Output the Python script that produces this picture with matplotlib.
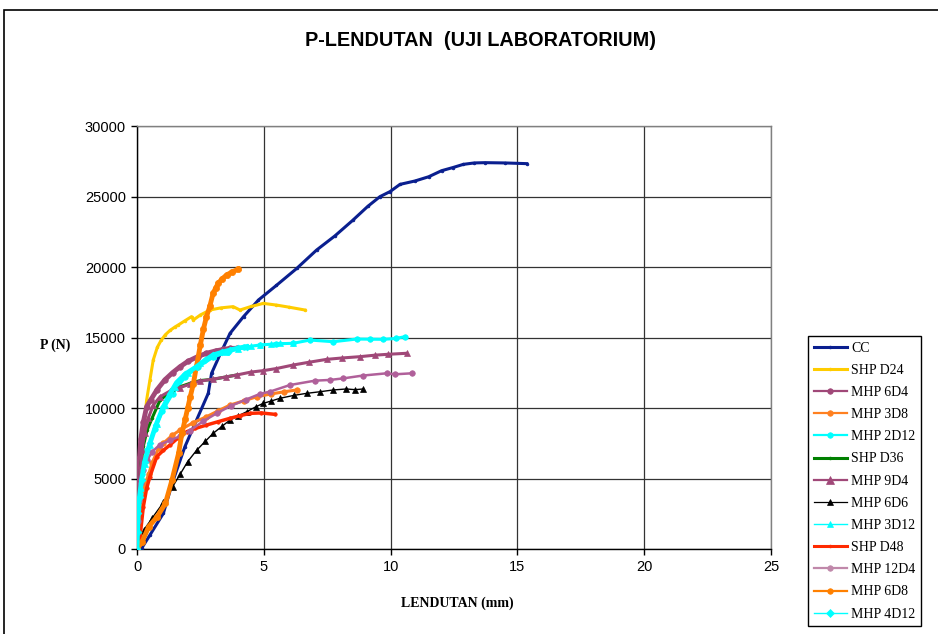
import matplotlib
matplotlib.use("Agg")
import matplotlib.pyplot as plt
from matplotlib.patches import Rectangle
from matplotlib.lines import Line2D

# ---------------- data ----------------
cc_x = [0, 0.2, 0.51, 1.04, 1.43, 1.89, 2.35, 2.81, 2.94, 3.3, 3.67, 4.2, 4.79, 5.5, 6.3, 7.08, 7.8, 8.5, 9.1,
        9.58, 9.98, 10.37, 10.96, 11.5, 12.01, 12.45, 12.87, 13.3, 13.72, 14.5, 15.37]
cc_p = [0, 100, 990, 2530, 4890, 7260, 9150, 11040, 12460, 13900, 15300, 16480, 17660, 18700, 19900, 21200,
        22200, 23300, 24300, 24990, 25350, 25860, 26100, 26400, 26830, 27050, 27280, 27380, 27400, 27380, 27330]

shp24_x = [0, 0.05, 0.1, 0.17, 0.25, 0.38, 0.51, 0.64, 0.8, 0.95, 1.12, 1.3, 1.5, 1.63, 1.9, 2.15, 2.22, 2.5,
           2.88, 3.3, 3.79, 4.06, 4.5, 4.98, 5.5, 6.0, 6.62]
shp24_p = [0, 1500, 3500, 6000, 8200, 10570, 11990, 13400, 14300, 14800, 15200, 15500, 15750, 15890, 16200,
           16480, 16240, 16600, 16950, 17100, 17190, 16950, 17200, 17420, 17300, 17150, 16950]

mhp6d4_x = [0, 0.02, 0.05, 0.1, 0.15, 0.25, 0.38, 0.55, 0.79, 1.1, 1.4, 1.7, 2.0, 2.4, 2.74, 3.1, 3.4, 3.67, 3.93]
mhp6d4_p = [0, 2500, 4500, 6500, 7800, 9000, 10090, 10600, 11300, 12000, 12500, 12930, 13300, 13650, 13880,
            14050, 14150, 14230, 14230]

mhp3d8_x = [0, 0.05, 0.12, 0.2, 0.3, 0.46, 0.59, 0.85, 1.04, 1.38, 1.7, 2.2, 2.74, 3.2, 3.67, 4.2, 4.72, 5.3,
            5.8, 6.3]
mhp3d8_p = [0, 1500, 2800, 3800, 4500, 5300, 6080, 7150, 7500, 8050, 8440, 8950, 9380, 9800, 10210, 10500,
            10800, 11000, 11150, 11280]

mhp2d12_x = [0, 0.03, 0.1, 0.2, 0.4, 0.7, 1.0, 1.4, 1.9, 2.4, 3.0, 3.6, 4.2, 4.85, 5.5, 6.16, 6.82, 7.74, 8.66,
             9.2, 9.71, 10.2, 10.57]
mhp2d12_p = [0, 1800, 3900, 5300, 7000, 8500, 9800, 11000, 12200, 12900, 13600, 14000, 14300, 14470, 14550,
             14590, 14820, 14700, 14890, 14880, 14870, 14930, 15060]

shp36_x = [0, 0.03, 0.08, 0.15, 0.25, 0.4, 0.6, 0.91, 1.3, 1.7, 2.09, 2.5, 3.0, 3.5, 3.93]
shp36_p = [0, 2000, 4000, 6000, 7300, 8440, 9300, 10570, 11100, 11510, 11750, 11950, 12030, 12200, 12340]

mhp9d4_x = [0, 0.02, 0.05, 0.1, 0.2, 0.3, 0.45, 0.64, 0.91, 1.3, 1.7, 2.1, 2.48, 3.0, 3.5, 3.93, 4.5, 4.98,
            5.5, 6.16, 6.8, 7.48, 8.1, 8.79, 9.4, 9.91, 10.63]
mhp9d4_p = [0, 2000, 3500, 5000, 7000, 8200, 9300, 10200, 10800, 11200, 11450, 11700, 11900, 12050, 12200,
            12340, 12550, 12650, 12800, 13050, 13250, 13450, 13550, 13640, 13750, 13810, 13880]

mhp6d6_x = [0, 0.1, 0.27, 0.6, 1.04, 1.4, 1.7, 2.0, 2.35, 2.7, 3.0, 3.35, 3.67, 4.0, 4.33, 4.7, 4.98, 5.3,
            5.64, 6.2, 6.69, 7.2, 7.74, 8.26, 8.6, 8.92]
mhp6d6_p = [0, 600, 1350, 2200, 3300, 4400, 5300, 6200, 7000, 7650, 8200, 8700, 9150, 9450, 9740, 10100,
            10330, 10500, 10690, 10900, 11040, 11150, 11280, 11350, 11300, 11350]

mhp3d12_x = [0, 0.03, 0.08, 0.15, 0.3, 0.51, 0.8, 1.1, 1.5, 2.0, 2.5, 3.0, 3.5, 4.0, 4.5, 4.85, 5.3, 5.64, 6.16]
mhp3d12_p = [0, 1500, 3000, 4300, 6000, 7400, 8900, 10200, 11500, 12500, 13200, 13700, 14000, 14200, 14400,
             14470, 14550, 14630, 14590]

shp48_x = [0, 0.05, 0.12, 0.25, 0.38, 0.51, 0.78, 1.04, 1.3, 1.6, 1.96, 2.3, 2.74, 3.2, 3.67, 4.05, 4.46,
           4.9, 5.44]
shp48_p = [0, 400, 870, 3000, 4300, 5130, 6550, 7000, 7380, 7850, 8320, 8550, 8790, 9030, 9270, 9450, 9620,
           9650, 9550]

mhp12d4_x = [0, 0.03, 0.08, 0.15, 0.25, 0.4, 0.6, 0.9, 1.3, 1.7, 2.09, 2.6, 3.14, 3.7, 4.3, 4.85, 5.24,
             6.03, 7.02, 7.61, 8.13, 8.9, 9.84, 10.17, 10.83]
mhp12d4_p = [0, 2000, 3500, 4700, 5600, 6300, 6900, 7400, 7700, 8000, 8400, 9050, 9620, 10150, 10600,
             11000, 11160, 11630, 11940, 11990, 12100, 12300, 12460, 12390, 12460]

mhp6d8_x = [0, 0.2, 0.46, 0.8, 1.12, 1.38, 1.64, 1.77, 1.9, 2.0, 2.1, 2.22, 2.35, 2.5, 2.62, 2.74, 2.87,
            3.0, 3.1, 3.2, 3.35, 3.53, 3.75, 3.99]
mhp6d8_p = [0, 500, 1580, 2300, 3240, 4890, 6790, 8200, 9200, 10000, 10800, 11700, 13000, 14500, 15600,
            16480, 17200, 18130, 18500, 18840, 19150, 19430, 19650, 19840]

mhp4d12_x = [0, 0.02, 0.05, 0.1, 0.18, 0.3, 0.51, 0.75, 1.04, 1.3, 1.56, 1.9, 2.35, 2.7, 3.0, 3.35, 3.67,
             4.0, 4.33]
mhp4d12_p = [0, 1200, 2530, 3700, 4890, 6200, 7500, 8800, 10090, 11000, 11800, 12400, 12930, 13400, 13760,
             13950, 14110, 14250, 14350]

x_ticks = [0, 5, 10, 15, 20, 25]
y_ticks = [0, 5000, 10000, 15000, 20000, 25000, 30000]

title = "P-LENDUTAN  (UJI LABORATORIUM)"
xlabel = "LENDUTAN (mm)"
ylabel = "P (N)"

# ---------------- figure ----------------
W, H = 938, 634
fig = plt.figure(figsize=(W / 100, H / 100), dpi=100)
fig.patch.set_facecolor("white")

# outer chart border
fig.patches.append(Rectangle((4 / W, -0.05), 1.0, (H - 10) / H + 0.05, transform=fig.transFigure,
                             fill=False, edgecolor="black", linewidth=1.2, zorder=0))

ax = fig.add_axes([137 / W, (H - 549) / H, (771 - 137) / W, (549 - 126) / H])

series = [
    ("CC", cc_x, cc_p, dict(color="#0A1F8F", lw=2.2, marker="o", ms=2, llw=2.2, lms=2)),
    ("SHP D24", shp24_x, shp24_p, dict(color="#FFCC00", lw=2.2, marker="o", ms=2, llw=2.2, lms=2)),
    ("MHP 6D4", mhp6d4_x, mhp6d4_p, dict(color="#A04878", lw=3.5, marker="o", ms=4, llw=1.6, lms=4)),
    ("MHP 3D8", mhp3d8_x, mhp3d8_p, dict(color="#FF8020", lw=2.2, marker="o", ms=4, llw=1.6, lms=4)),
    ("MHP 2D12", mhp2d12_x, mhp2d12_p, dict(color="#00FFFF", lw=2.2, marker="o", ms=4, llw=1.6, lms=4)),
    ("SHP D36", shp36_x, shp36_p, dict(color="#008000", lw=2.2, marker="o", ms=2, llw=2.2, lms=2)),
    ("MHP 9D4", mhp9d4_x, mhp9d4_p, dict(color="#A04878", lw=2.2, marker="^", ms=5, llw=1.6, lms=6)),
    ("MHP 6D6", mhp6d6_x, mhp6d6_p, dict(color="black", lw=1.0, marker="^", ms=5, llw=0.9, lms=5)),
    ("MHP 3D12", mhp3d12_x, mhp3d12_p, dict(color="#00FFFF", lw=1.2, marker="^", ms=5, llw=1.0, lms=5)),
    ("SHP D48", shp48_x, shp48_p, dict(color="#FF2A00", lw=2.5, marker="o", ms=2.5, llw=2.2, lms=2)),
    ("MHP 12D4", mhp12d4_x, mhp12d4_p, dict(color="#C088AA", lw=1.8, marker="o", ms=4, llw=1.6, lms=4)),
    ("MHP 6D8", mhp6d8_x, mhp6d8_p, dict(color="#FF8000", lw=3.5, marker="o", ms=4.5, llw=1.6, lms=4)),
    ("MHP 4D12", mhp4d12_x, mhp4d12_p, dict(color="#00FFFF", lw=3.5, marker="D", ms=3.5, llw=1.0, lms=4)),
]

handles = []
for name, xs, ps, st in series:
    color = st["color"]
    if name == "MHP 12D4":
        color = "#B0609A"
    ax.plot(xs, ps, color=color, linewidth=st["lw"], marker=st["marker"],
            markersize=st["ms"], markeredgewidth=0.5, markeredgecolor=color, zorder=3)
    handles.append(Line2D([], [], color=st["color"], linewidth=st["llw"], marker=st["marker"],
                          markersize=st["lms"], markeredgewidth=0.5, markeredgecolor=st["color"],
                          label=name))

ax.set_xlim(0, 25)
ax.set_ylim(0, 30000)
ax.set_xticks(x_ticks)
ax.set_yticks(y_ticks)
ax.set_xticklabels([str(v) for v in x_ticks])
ax.set_yticklabels([str(v) for v in y_ticks])
ax.grid(True, color="#333333", linewidth=0.9, zorder=1)
ax.set_axisbelow(True)

for s in ["top", "right"]:
    ax.spines[s].set_color("#808080")
    ax.spines[s].set_linewidth(1.0)
for s in ["left", "bottom"]:
    ax.spines[s].set_color("black")
    ax.spines[s].set_linewidth(1.0)

ax.tick_params(axis="both", direction="out", length=4, width=1, color="black",
               labelsize=10.5, pad=4)
for lab in ax.get_xticklabels() + ax.get_yticklabels():
    lab.set_fontfamily("Liberation Sans")

fig.text(480 / W, 1 - 40 / H, title, ha="center", va="center", fontsize=14.3, fontweight="bold",
         family="Liberation Sans")
fig.text(457 / W, 1 - 603 / H, xlabel, ha="center", va="center", fontsize=10, fontweight="bold",
         family="Liberation Serif")
fig.text(55 / W, 1 - 345 / H, ylabel, ha="center", va="center", fontsize=10, fontweight="bold",
         family="Liberation Serif")

leg = fig.legend(handles=handles, loc="upper left", bbox_to_anchor=(808 / W, 1 - 336 / H),
                 prop={"family": "Liberation Serif", "size": 10}, frameon=True, fancybox=False,
                 edgecolor="black", framealpha=1, borderpad=0.4, labelspacing=0.66, handlelength=2.4,
                 handletextpad=0.3, borderaxespad=0)
leg.get_frame().set_linewidth(1.0)

fig.savefig("out.png", dpi=100, facecolor="white")
